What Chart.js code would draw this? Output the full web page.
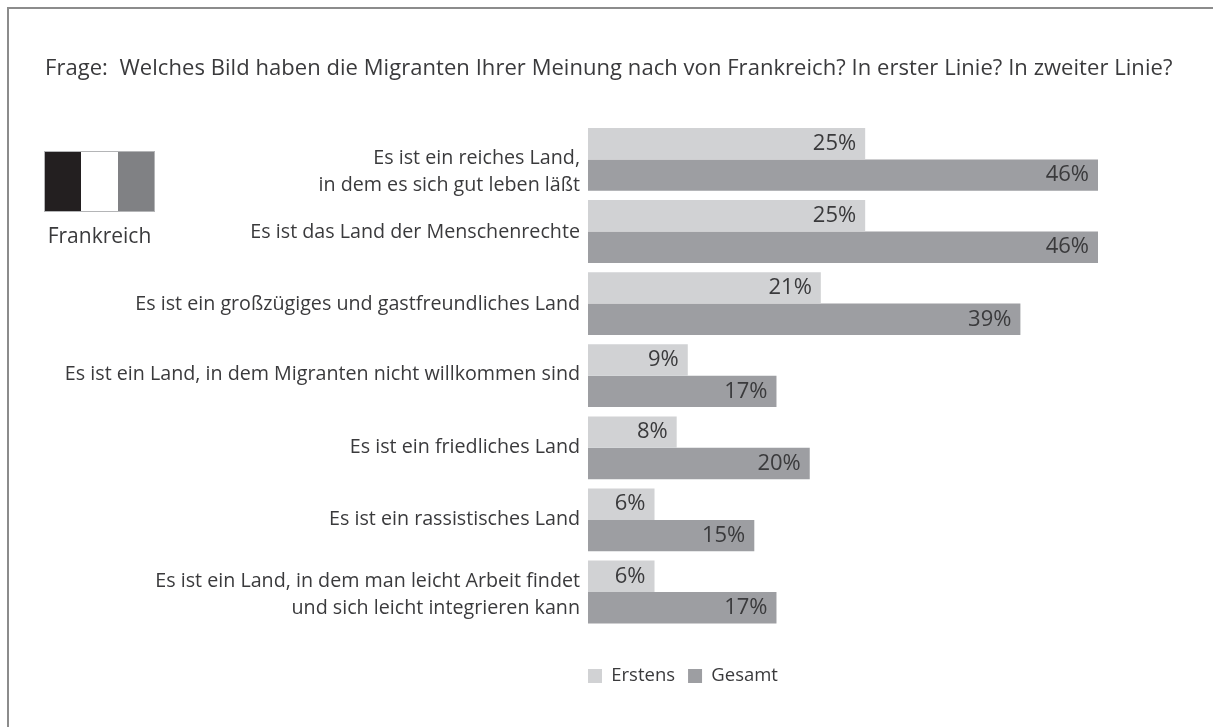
<!DOCTYPE html>
<html lang="de"><head><meta charset="utf-8">
<script src="https://cdn.jsdelivr.net/npm/chart.js@4"></script>
<style>
html,body{margin:0;padding:0;background:#fff;overflow:hidden}
#wrap{position:relative;width:1213px;height:727px;font-family:"Open Sans",sans-serif;color:#3a3a3c}
canvas{position:absolute;left:0;top:0}
#frame{position:absolute;left:7px;top:7px;width:1206px;height:720px;border-left:2px solid #8c8c8c;border-top:2px solid #8c8c8c;box-sizing:border-box}
#q{position:absolute;left:45px;top:51px;font-size:22px;line-height:30px;white-space:pre;letter-spacing:0.05px}
#flag{position:absolute;left:44px;top:151px;width:111px;height:61px;display:flex;box-sizing:border-box;border:1px solid #b4b5b7}
#flag i{flex:1;display:block}
#fn{position:absolute;left:44px;width:111px;top:220px;text-align:center;font-size:21px;line-height:30px}
</style></head><body>
<div id="wrap">
<div id="frame"></div>
<canvas id="c" width="1213" height="727"></canvas>
<div id="q">Frage:  Welches Bild haben die Migranten Ihrer Meinung nach von Frankreich? In erster Linie? In zweiter Linie?</div>
<div id="flag"><i style="background:#231f20"></i><i style="background:#fff"></i><i style="background:#808184"></i></div>
<div id="fn">Frankreich</div>
</div>
<script>
const categories = [
  ["Es ist ein reiches Land,", "in dem es sich gut leben läßt"],
  "Es ist das Land der Menschenrechte",
  "Es ist ein großzügiges und gastfreundliches Land",
  "Es ist ein Land, in dem Migranten nicht willkommen sind",
  "Es ist ein friedliches Land",
  "Es ist ein rassistisches Land",
  ["Es ist ein Land, in dem man leicht Arbeit findet", "und sich leicht integrieren kann"]
];
const erstens = [25, 25, 21, 9, 8, 6, 6];
const gesamt = [46, 46, 39, 17, 20, 15, 17];
const FONT = '"Open Sans", sans-serif';
const TEXT = '#3a3a3c';
const labelNudge = [12.5, 1, 0.4, -1.7, -0.5, -0.3, 3.3];

const valueLabels = {
  id: 'valueLabels',
  afterLayout(chart) {
    chart.legend.left = 575;
    chart.legend.top = 653.75;
    chart.legend.bottom = 720;
  },
  beforeDraw(chart) {
    chart.scales.y.getLabelItems(chart.chartArea).forEach((item, i) => {
      item.options.translation[1] += labelNudge[i];
    });
  },
  afterDatasetsDraw(chart) {
    const ctx = chart.ctx;
    ctx.save();
    ctx.font = '22px ' + FONT;
    ctx.fillStyle = TEXT;
    ctx.textAlign = 'right';
    ctx.textBaseline = 'middle';
    chart.data.datasets.forEach((ds, i) => {
      chart.getDatasetMeta(i).data.forEach((bar, j) => {
        ctx.fillText(ds.data[j] + '%', bar.x - 9, bar.y);
      });
    });
    ctx.restore();
  }
};

new Chart(document.getElementById('c'), {
  type: 'bar',
  data: {
    labels: categories,
    datasets: [
      { label: 'Erstens', data: erstens, backgroundColor: '#d1d2d4', categoryPercentage: 0.871, barPercentage: 1 },
      { label: 'Gesamt', data: gesamt, backgroundColor: '#9d9ea2', categoryPercentage: 0.871, barPercentage: 1 }
    ]
  },
  options: {
    indexAxis: 'y',
    responsive: false,
    animation: false,
    events: [],
    layout: { padding: { top: 123.35, right: 115, bottom: 57.45, left: 0 } },
    scales: {
      x: { display: false, min: 0, max: 46 },
      y: {
        afterFit(s) { s.width = 588; },
        grid: { display: false },
        border: { display: false },
        ticks: { color: TEXT, font: { family: FONT, size: 19.7, lineHeight: 1.37 }, padding: 0, autoSkip: false }
      }
    },
    plugins: {
      title: { display: false },
      tooltip: { enabled: false },
      legend: {
        position: 'bottom',
        align: 'start',
        fullSize: false,
        labels: { boxWidth: 14, boxHeight: 14, padding: 13, color: TEXT, font: { family: FONT, size: 18.5 } }
      }
    }
  },
  plugins: [valueLabels]
});
</script>
</body></html>
